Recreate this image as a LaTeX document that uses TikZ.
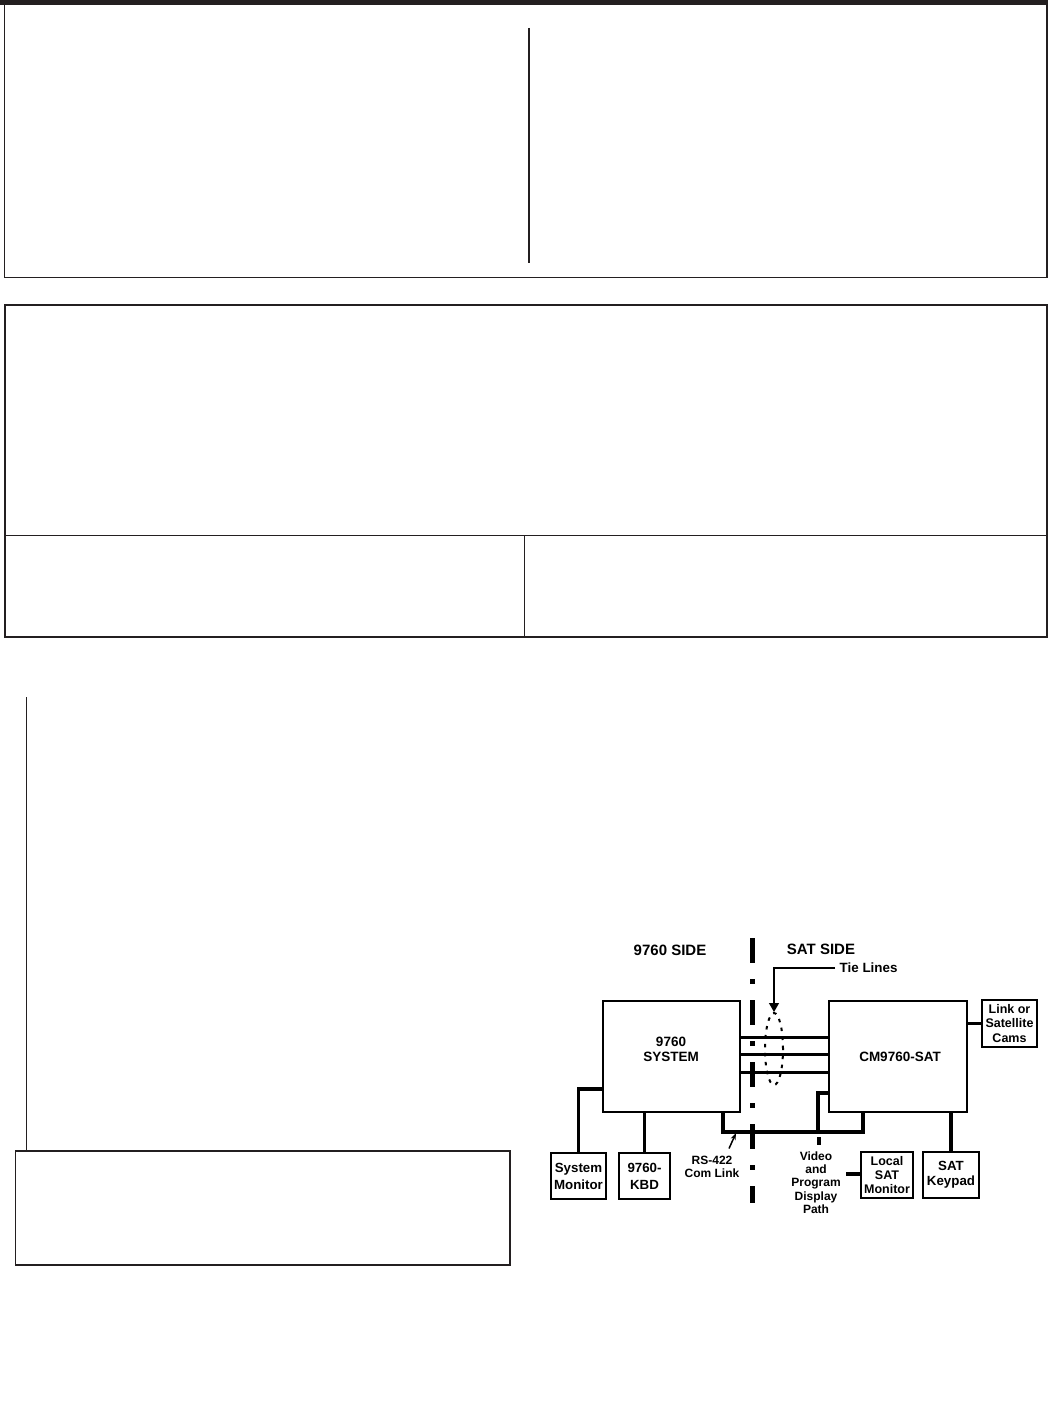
\documentclass[tikz,border=0pt]{standalone}
\usepackage{fontspec}
\setmainfont{Liberation Sans}
\usetikzlibrary{arrows.meta,calc,shapes.geometric}
\definecolor{frame}{HTML}{231F20}
\newcommand\myfs[2]{\fontsize{#1}{#2}\selectfont\bfseries}
\begin{document}
\begin{tikzpicture}[x=1pt,y=-1pt,
  framel/.style={draw=frame,line width=1.5},
  box/.style={draw=black,line width=2.2,fill=white,inner sep=0pt,align=center},
  conn/.style={draw=black,line width=3.8},
  tie/.style={draw=black,line width=3},
  lbl/.style={inner sep=0pt,align=center},
]
\useasboundingbox (0,0) rectangle (1048,1404);
\fill[white] (0,0) rectangle (1048,1404);

% ---- page frames ----
\fill[frame] (0,0) rectangle (1048,5);
\draw[framel] (4.5,3) -- (4.5,277.5) -- (1047,277.5) -- (1047,3);
\draw[framel] (529,28) -- (529,263);
\draw[framel] (5,305) rectangle (1047,637);
\draw[framel] (5,535.5) -- (1047,535.5);
\draw[framel] (524.5,535.5) -- (524.5,637);
\draw[framel] (26.5,697) -- (26.5,1150);
\draw[framel] (15.5,1151) rectangle (510,1265);

% ---- diagram: dash-dot divider ----
\draw[black,line width=5,dash pattern=on 25 off 16 on 5 off 16] (752,938) -- (752,1203);

% ---- headings ----
\node[lbl,font=\myfs{15}{18}] (side1) at (670,950) {9760 SIDE};
\node[lbl,font=\myfs{15}{18}] (side2) at (821,949) {SAT SIDE};
\node[lbl,font=\myfs{13.4}{16},anchor=west] (tiel) at (839.5,968) {Tie Lines};

% ---- main boxes ----
\node[box,minimum width=137,minimum height=111] (sys) at (671.5,1056.5) {};
\node[lbl,font=\myfs{13.5}{15}] (syst) at (671,1049.5) {9760\\SYSTEM};
\node[box,minimum width=138,minimum height=111,font=\myfs{13.5}{15}] (sat) at (898,1056.5) {\hspace*{4pt}CM9760-SAT};

\node[box,minimum width=55,minimum height=46,font=\myfs{13.3}{17}] (mon) at (578.5,1176) {System\\Monitor};
\node[box,minimum width=51,minimum height=46,font=\myfs{13.3}{17}] (kbd) at (644.5,1176) {9760-\\KBD};
\node[box,minimum width=52,minimum height=46,font=\myfs{12.5}{14}] (lsm) at (887,1175) {Local\\SAT\\Monitor};
\node[box,minimum width=56,minimum height=46,font=\myfs{13.3}{15}] (kpd) at (951,1175) {SAT\\Keypad};
\node[box,minimum width=55,minimum height=47,font=\myfs{12.5}{14.5}] (cams) at (1009.5,1023.5) {Link or\\Satellite\\Cams};

\node[lbl,font=\myfs{12}{13}] (rst) at (712,1166.5) {RS-422\\Com Link};
\node[lbl,font=\myfs{12}{13.3}] (vid) at (816,1182.5) {Video\\and\\Program\\Display\\Path};

% ---- tie lines ----
\foreach \yy in {1037,1054,1072}
  \draw[tie] (sys.east |- 0,\yy) -- (sat.west |- 0,\yy);

% ---- connectors ----
\coordinate (monc) at (581,1089);
\draw[conn] (sys.west |- monc) -| (mon.north);
\draw[conn] (kbd.north) -- (kbd.north |- sys.south);
\draw[conn] (kpd.north) -- (kpd.north |- sat.south);
\draw[conn] (sat.east |- cams.west) -- (cams.west);
\draw[conn] ($(sys.south west)+(121,0)$) |- ($(sat.south west)+(35,19)$) -- ($(sat.south west)+(35,0)$);
\coordinate (vidtop) at ($(sat.west)+(-10,36.5)$);
\draw[conn] ($(sat.west)+(0,36.5)$) -- (vidtop) -- ($(vidtop)+(0,38)$);
\coordinate (vd1) at (819,1137);
\coordinate (vd2) at (819,1145);
\draw[black,line width=3.5] (vd1) -- (vd2);
\coordinate (lsmline) at (846,1174);
\draw[conn] (lsmline) -- (lsm.west |- lsmline);

% ---- tie-line ellipse and pointer ----
\node[draw=black,line width=2,dash pattern=on 3.5 off 5.5,ellipse,minimum width=18,minimum height=72,inner sep=0pt] (tieell) at (774,1049) {};
\coordinate (tiestart) at (835,968);
\coordinate (tiecorner) at (774,968);
\draw[black,line width=1.2,-{Triangle[length=9,width=10]}] (tiestart) -- (tiecorner) -- (tieell.north);

% ---- RS-422 pointer ----
\coordinate (rsstart) at (729,1148.5);
\coordinate (rsarr) at (736,1133);
\draw[black,line width=1.5,-{Stealth[length=7,width=5]}] (rsstart) -- (rsarr);
\end{tikzpicture}
\end{document}
